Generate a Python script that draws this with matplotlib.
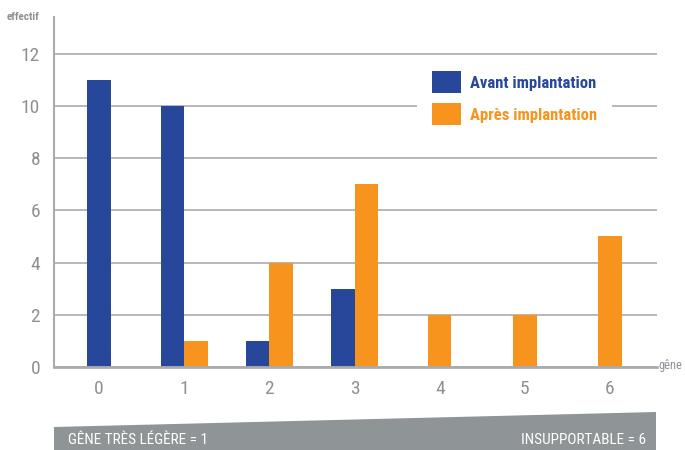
import matplotlib
matplotlib.use('Agg')
import matplotlib.pyplot as plt
from matplotlib import font_manager
from matplotlib.patches import Polygon

# ---- data ----
categories = [0, 1, 2, 3, 4, 5, 6]
avant = [11, 10, 1, 3, 0, 0, 0]
apres = [0, 1, 4, 7, 2, 2, 5]
series_labels = ['Avant implantation', 'Après implantation']
y_ticks = [0, 2, 4, 6, 8, 10, 12]
y_label = 'effectif'
x_label = 'gêne'
scale_left = 'GÊNE TRÈS LÉGÈRE = 1'
scale_right = 'INSUPPORTABLE = 6'

# ---- fonts ----
names = {f.name for f in font_manager.fontManager.ttflist}
FONT = 'DejaVu Sans'
for fam in ['Roboto Condensed', 'Liberation Sans Narrow', 'DejaVu Sans']:
    if fam in names:
        FONT = fam
        break
plt.rcParams['font.family'] = [FONT, 'DejaVu Sans']

BLUE = '#27479a'
ORANGE = '#f7941d'
GREY = '#8c9196'
GRID = '#a9acaf'
BAND = '#8f9496'

W, H = 685, 450
fig = plt.figure(figsize=(W / 100, H / 100), dpi=100)
ax = fig.add_axes([54 / W, (H - 367) / H, (657 - 54) / W, (367 - 17) / H])

w = 0.276
off_a = [-w / 2 if (a and b) else 0 for a, b in zip(avant, apres)]
off_b = [w / 2 if (a and b) else 0 for a, b in zip(avant, apres)]
ax.bar([c + o for c, o in zip(categories, off_a)], avant, w, color=BLUE,
       label=series_labels[0], linewidth=0)
ax.bar([c + o for c, o in zip(categories, off_b)], apres, w, color=ORANGE,
       label=series_labels[1], linewidth=0)

ax.set_xlim(-0.53, 6.552)
ax.set_ylim(0, 13.4)
ax.set_yticks(y_ticks)
ax.set_xticks(categories)
ax.set_xticklabels([str(c) for c in categories])
ax.yaxis.grid(True, color=GRID, linewidth=1.2)
ax.set_axisbelow(True)
for s in ['top', 'right']:
    ax.spines[s].set_visible(False)
ax.spines['left'].set_color(GRID)
ax.spines['left'].set_linewidth(1.5)
ax.spines['bottom'].set_color(GRID)
ax.spines['bottom'].set_linewidth(2)
ax.tick_params(axis='both', length=0, labelsize=14, colors=GREY)
ax.tick_params(axis='y', pad=10)
ax.tick_params(axis='x', pad=9)

leg = ax.legend(loc='upper left', bbox_to_anchor=(417 / W, (H - 56) / H),
                bbox_transform=fig.transFigure, frameon=True, facecolor='white',
                edgecolor='none', framealpha=1, fancybox=False,
                prop={'size': 12, 'weight': 'bold'},
                handlelength=1.73, handleheight=1.62, handletextpad=0.5,
                labelspacing=0.62, borderpad=0.92, borderaxespad=0)
for t, c in zip(leg.get_texts(), [BLUE, ORANGE]):
    t.set_color(c)

fig.text(7 / W, 1 - 17 / H, y_label, fontsize=8, color=GREY, va='center', ha='left',
         weight='bold')
fig.text(658 / W, 1 - 366 / H, x_label, fontsize=9, color=GREY, va='center', ha='left')

band = Polygon([(54 / W, 0), (54 / W, 1 - 427 / H), (656 / W, 1 - 412 / H), (656 / W, 0)],
               closed=True, transform=fig.transFigure, facecolor=BAND, edgecolor='none')
fig.add_artist(band)
fig.text(68 / W, 1 - 440 / H, scale_left, fontsize=11, color='white', va='center', ha='left')
fig.text(646 / W, 1 - 440 / H, scale_right, fontsize=11, color='white', va='center', ha='right')

fig.savefig('out.png', dpi=100)
